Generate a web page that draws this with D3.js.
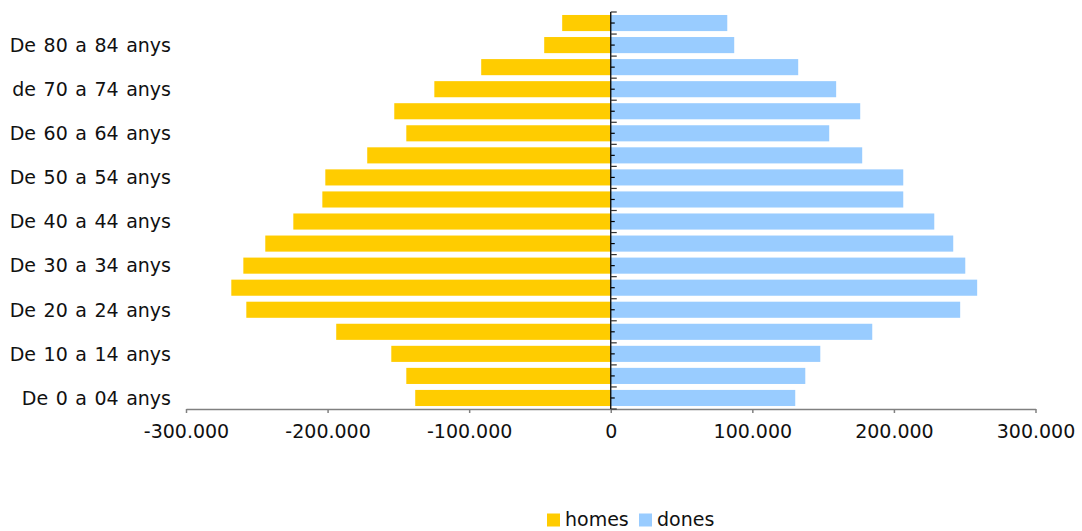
<!DOCTYPE html>
<html>
<head>
<meta charset="utf-8">
<script src="https://cdn.jsdelivr.net/npm/d3@7"></script>
<style>
  html, body { margin: 0; padding: 0; background: #fff; }
  svg { display: block; font-family: "DejaVu Sans", Verdana, sans-serif; }
</style>
</head>
<body>
<svg id="chart" width="1082" height="531"></svg>
<script>
// Age groups, from youngest to oldest
const categories = [
  "De 0 a 04 anys", "De 05 a 09 anys", "De 10 a 14 anys", "De 15 a 19 anys",
  "De 20 a 24 anys", "De 25 a 29 anys", "De 30 a 34 anys", "De 35 a 39 anys",
  "De 40 a 44 anys", "De 45 a 49 anys", "De 50 a 54 anys", "De 55 a 59 anys",
  "De 60 a 64 anys", "De 65 a 69 anys", "de 70 a 74 anys", "De 75 a 79 anys",
  "De 80 a 84 anys", "De 85 anys i més"
];
// Labels shown on the category axis (every other group)
const shownLabels = [
  "De 0 a 04 anys", "De 10 a 14 anys", "De 20 a 24 anys", "De 30 a 34 anys",
  "De 40 a 44 anys", "De 50 a 54 anys", "De 60 a 64 anys", "de 70 a 74 anys",
  "De 80 a 84 anys"
];
const homes = [138100, 144400, 155000, 193900, 257400, 268000, 259500, 244000,
               224200, 203700, 201600, 172000, 144400, 152900, 124600, 91500,
               47000, 34300];
const dones = [130300, 137400, 148000, 184700, 246800, 258800, 250400, 241900,
               228500, 206600, 206600, 177600, 154300, 176200, 159200, 132400,
               87200, 82300];
const seriesNames = ["homes", "dones"];
const seriesColors = ["#FFCC00", "#99CCFF"];
const xTicks = [-300000, -200000, -100000, 0, 100000, 200000, 300000];

const svg = d3.select("#chart");
const locale = d3.formatLocale({decimal: ",", thousands: ".", grouping: [3], currency: ["", " €"], minus: "-"});
const fmt = locale.format(",");

const x = d3.scaleLinear().domain([-300000, 300000]).range([186, 1035.5]);
const y = d3.scaleBand().domain(categories.slice().reverse()).range([12, 409])
  .paddingInner(0.27).paddingOuter(0.135);

const data = categories.map((c, i) => ({c, h: homes[i], d: dones[i]}));

// bars
svg.append("g").selectAll("rect.h").data(data).join("rect")
  .attr("x", d => x(-d.h)).attr("y", d => y(d.c))
  .attr("width", d => x(0) - x(-d.h)).attr("height", y.bandwidth())
  .attr("fill", seriesColors[0]);
svg.append("g").selectAll("rect.d").data(data).join("rect")
  .attr("x", x(0)).attr("y", d => y(d.c))
  .attr("width", d => x(d.d) - x(0)).attr("height", y.bandwidth())
  .attr("fill", seriesColors[1]);

// bottom value axis
const xAxis = svg.append("g").attr("transform", "translate(0,409)")
  .call(d3.axisBottom(x).tickValues(xTicks).tickFormat(d => fmt(d)).tickSize(4).tickPadding(12).tickSizeOuter(0));
xAxis.select(".domain").attr("stroke", "#808080").attr("stroke-width", 1.5);
xAxis.selectAll(".tick line").attr("stroke", "#808080").attr("stroke-width", 1.5);
xAxis.selectAll("text").attr("font-size", 19).attr("fill", "#111")
  .attr("font-family", "DejaVu Sans, Verdana, sans-serif");

// category axis at zero
const step = y.step();
const cat = svg.append("g");
cat.append("line").attr("x1", x(0)).attr("x2", x(0)).attr("y1", 12).attr("y2", 409)
  .attr("stroke", "#000").attr("stroke-width", 1.3);
const bounds = d3.range(categories.length + 1).map(i => 12 + i * step);
cat.selectAll("line.b").data(bounds).join("line")
  .attr("x1", x(0)).attr("x2", x(0) + 6).attr("y1", d => d).attr("y2", d => d)
  .attr("stroke", "#333").attr("stroke-width", 1.2);
cat.selectAll("line.m").data(categories).join("line")
  .attr("x1", x(0)).attr("x2", x(0) + 4)
  .attr("y1", d => y(d) + y.bandwidth() / 2).attr("y2", d => y(d) + y.bandwidth() / 2)
  .attr("stroke", "#000").attr("stroke-width", 1.2);

// category labels
svg.append("g").selectAll("text").data(shownLabels).join("text")
  .attr("x", 171).attr("y", d => y(d) + y.bandwidth() / 2)
  .attr("dy", "0.36em").attr("text-anchor", "end")
  .attr("word-spacing", 1.5)
  .attr("font-size", 19).attr("fill", "#111").text(d => d);

// legend
const legend = svg.append("g");
const legendItems = [{x: 547, tx: 565}, {x: 639, tx: 657}];
seriesNames.forEach((n, i) => {
  legend.append("rect").attr("x", legendItems[i].x).attr("y", 513.5)
    .attr("width", 13).attr("height", 13).attr("fill", seriesColors[i]);
  legend.append("text").attr("x", legendItems[i].tx).attr("y", 526)
    .attr("font-size", 19).attr("fill", "#111").text(n);
});
</script>
</body>
</html>
